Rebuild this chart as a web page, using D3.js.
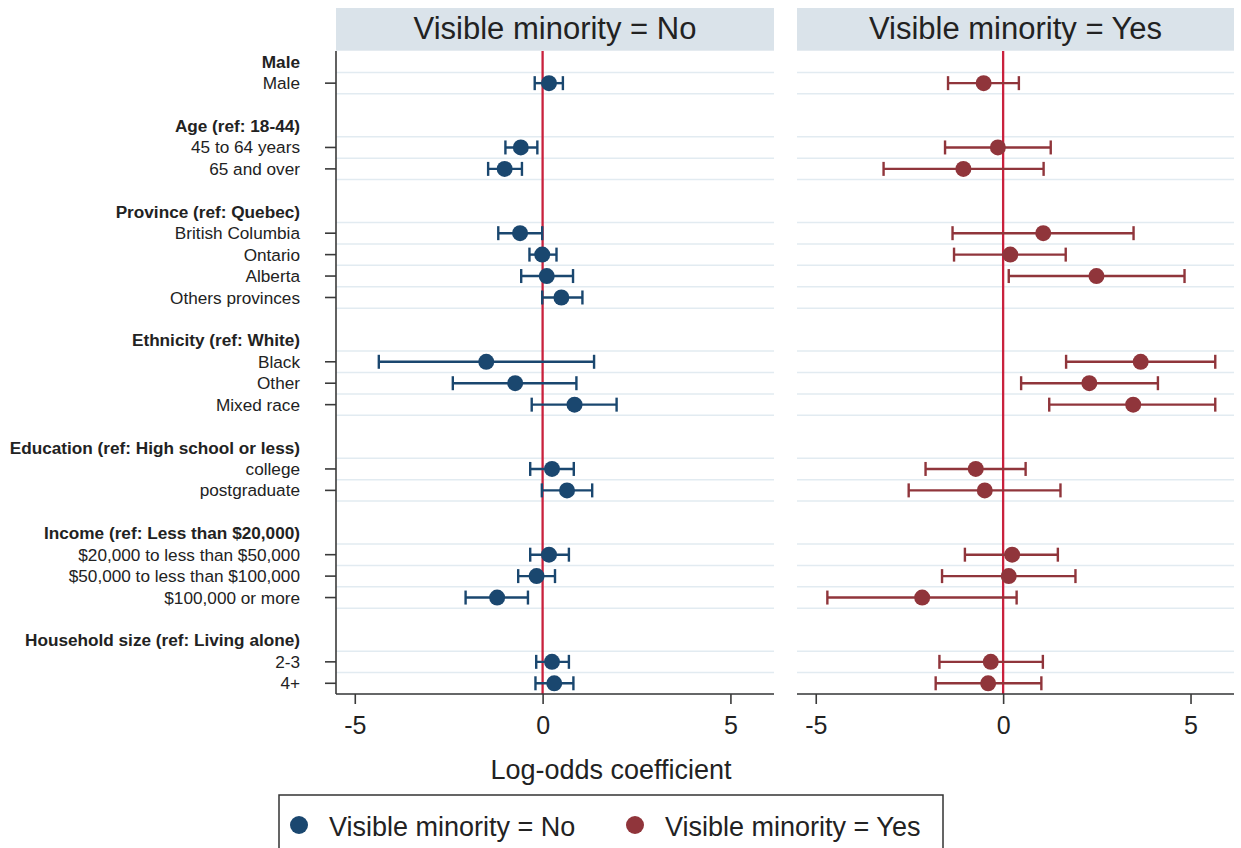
<!DOCTYPE html>
<meta charset="utf-8">
<script src="https://d3js.org/d3.v7.min.js"></script>
<style>
  body { margin: 0; background: #fff; }
  text { font-family: "Liberation Sans", Arial, sans-serif; fill: #222; }
  .grid { stroke: #e2ebf1; stroke-width: 1.5; }
  .axis { stroke: #3a3a3a; stroke-width: 1.6; }
</style>
<body></body>
<script>

// rows top to bottom ("" = blank spacer)
var rowLabels = ["Male", "Male", "",
  "Age (ref: 18-44)", "45 to 64 years", "65 and over", "",
  "Province (ref: Quebec)", "British Columbia", "Ontario", "Alberta", "Others provinces", "",
  "Ethnicity (ref: White)", "Black", "Other", "Mixed race", "",
  "Education (ref: High school or less)", "college", "postgraduate", "",
  "Income (ref: Less than $20,000)", "$20,000 to less than $50,000", "$50,000 to less than $100,000", "$100,000 or more", "",
  "Household size (ref: Living alone)", "2-3", "4+"];
var headerRows = [0, 3, 7, 13, 18, 22, 27];

var panels = ["Visible minority = No", "Visible minority = Yes"];
var xTicks = [-5, 0, 5];

// estimates for the 17 item rows, in order
var coefNo  = [0.17, -0.58, -1.01, -0.60, -0.01, 0.11, 0.50, -1.50, -0.73, 0.85, 0.25, 0.65, 0.17, -0.16, -1.21, 0.25, 0.31];
var lowNo   = [-0.21, -0.99, -1.45, -1.18, -0.35, -0.57, -0.01, -4.36, -2.39, -0.29, -0.33, -0.02, -0.33, -0.65, -2.05, -0.17, -0.19];
var highNo  = [0.54, -0.14, -0.55, -0.01, 0.37, 0.81, 1.06, 1.37, 0.90, 1.97, 0.83, 1.32, 0.70, 0.33, -0.39, 0.70, 0.82];

var coefYes = [-0.52, -0.14, -1.06, 1.07, 0.19, 2.49, null, 3.67, 2.30, 3.47, -0.73, -0.49, 0.24, 0.15, -2.16, -0.33, -0.40];
var lowYes  = [-1.47, -1.55, -3.19, -1.35, -1.31, 0.15, null, 1.68, 0.48, 1.23, -2.07, -2.52, -1.02, -1.63, -4.69, -1.70, -1.80];
var highYes = [0.42, 1.27, 1.08, 3.48, 1.67, 4.84, null, 5.66, 4.13, 5.66, 0.60, 1.53, 1.46, 1.93, 0.36, 1.06, 1.02];

var colors = ["#1a476f", "#90353b"];

var width = 1241, height = 848;
var plotTop = 51, plotBottom = 694;
var panelX = [[336, 774], [797, 1234]];

var svg = d3.select("body").append("svg")
    .attr("width", width)
    .attr("height", height);

var y = d3.scaleLinear().domain([-0.5, rowLabels.length - 0.5]).range([plotTop, plotBottom]);

var itemRows = [];
rowLabels.forEach(function(l, i) {
  if (l !== "" && headerRows.indexOf(i) < 0) itemRows.push(i);
});

var series = [
  itemRows.map(function(r, k) { return {row: r, b: coefNo[k], lo: lowNo[k], hi: highNo[k]}; }),
  itemRows.map(function(r, k) { return {row: r, b: coefYes[k], lo: lowYes[k], hi: highYes[k]}; })
];

// grid line positions: edges around every item row
var gridY = [];
itemRows.forEach(function(r) {
  [r - 0.5, r + 0.5].forEach(function(v) { if (gridY.indexOf(v) < 0) gridY.push(v); });
});

panels.forEach(function(title, p) {
  var x = d3.scaleLinear().domain([-5.5, 6.16]).range(panelX[p]);
  var g = svg.append("g");

  g.append("rect")
      .attr("x", panelX[p][0]).attr("y", 8)
      .attr("width", panelX[p][1] - panelX[p][0]).attr("height", plotTop - 8.3)
      .attr("fill", "#dae3ea");
  g.append("text")
      .attr("x", (panelX[p][0] + panelX[p][1]) / 2).attr("y", 39)
      .attr("text-anchor", "middle")
      .style("font-size", "31px")
      .text(title);

  g.selectAll("line.grid").data(gridY).enter().append("line")
      .attr("class", "grid")
      .attr("x1", panelX[p][0]).attr("x2", panelX[p][1])
      .attr("y1", function(d) { return y(d); })
      .attr("y2", function(d) { return y(d); });

  g.append("line")
      .attr("x1", x(0)).attr("x2", x(0))
      .attr("y1", plotTop).attr("y2", plotBottom)
      .attr("stroke", "#c9213d").attr("stroke-width", 2.3);

  var pts = series[p].filter(function(d) { return d.b !== null; });
  var bars = g.selectAll("g.bar").data(pts).enter().append("g")
      .attr("stroke", colors[p]).attr("stroke-width", 2.4);
  bars.append("line")
      .attr("x1", function(d) { return x(d.lo); })
      .attr("x2", function(d) { return x(d.hi); })
      .attr("y1", function(d) { return y(d.row); })
      .attr("y2", function(d) { return y(d.row); });
  bars.append("line")
      .attr("x1", function(d) { return x(d.lo); })
      .attr("x2", function(d) { return x(d.lo); })
      .attr("y1", function(d) { return y(d.row) - 7; })
      .attr("y2", function(d) { return y(d.row) + 7; });
  bars.append("line")
      .attr("x1", function(d) { return x(d.hi); })
      .attr("x2", function(d) { return x(d.hi); })
      .attr("y1", function(d) { return y(d.row) - 7; })
      .attr("y2", function(d) { return y(d.row) + 7; });
  g.selectAll("circle").data(pts).enter().append("circle")
      .attr("cx", function(d) { return x(d.b); })
      .attr("cy", function(d) { return y(d.row); })
      .attr("r", 8)
      .attr("fill", colors[p]);

  // x axis
  var xa = g.append("g")
      .attr("transform", "translate(0," + plotBottom + ")")
      .call(d3.axisBottom(x).tickValues(xTicks).tickSize(10).tickPadding(12)
        .tickFormat(function(d) { return String(d); }));
  xa.select(".domain").remove();
  xa.selectAll(".tick line").attr("stroke", "#3a3a3a").attr("stroke-width", 1.6);
  xa.selectAll(".tick text").style("font-size", "25px").attr("fill", "#222");
  g.append("line").attr("class", "axis")
      .attr("x1", panelX[p][0]).attr("x2", panelX[p][1])
      .attr("y1", plotBottom).attr("y2", plotBottom);

  if (p === 0) {
    g.append("line").attr("class", "axis")
        .attr("x1", panelX[0][0]).attr("x2", panelX[0][0])
        .attr("y1", plotTop).attr("y2", plotBottom);
    g.selectAll("line.ytick").data(itemRows).enter().append("line")
        .attr("class", "axis")
        .attr("x1", panelX[0][0] - 11).attr("x2", panelX[0][0])
        .attr("y1", function(d) { return y(d); })
        .attr("y2", function(d) { return y(d); });
  }
});

// row labels
svg.append("g").selectAll("text")
    .data(rowLabels.map(function(l, i) { return {label: l, row: i}; }).filter(function(d) { return d.label !== ""; }))
  .enter().append("text")
    .attr("x", 300)
    .attr("y", function(d) { return y(d.row); })
    .attr("dy", "0.35em")
    .attr("text-anchor", "end")
    .style("font-size", "17.2px")
    .style("font-weight", function(d) { return headerRows.indexOf(d.row) >= 0 ? "bold" : "normal"; })
    .text(function(d) { return d.label; });

svg.append("text")
    .attr("x", 611).attr("y", 779)
    .attr("text-anchor", "middle")
    .style("font-size", "27px")
    .text("Log-odds coefficient");

// legend
var legend = svg.append("g");
legend.append("rect")
    .attr("x", 279).attr("y", 795).attr("width", 664).attr("height", 70)
    .attr("fill", "#fff").attr("stroke", "#333").attr("stroke-width", 1.5);
var legX = [299, 635];
panels.forEach(function(t, i) {
  legend.append("circle").attr("cx", legX[i]).attr("cy", 825).attr("r", 9).attr("fill", colors[i]);
  legend.append("text").attr("x", legX[i] + 30).attr("y", 836)
      .style("font-size", "27px").text(t);
});

</script>
</html>
